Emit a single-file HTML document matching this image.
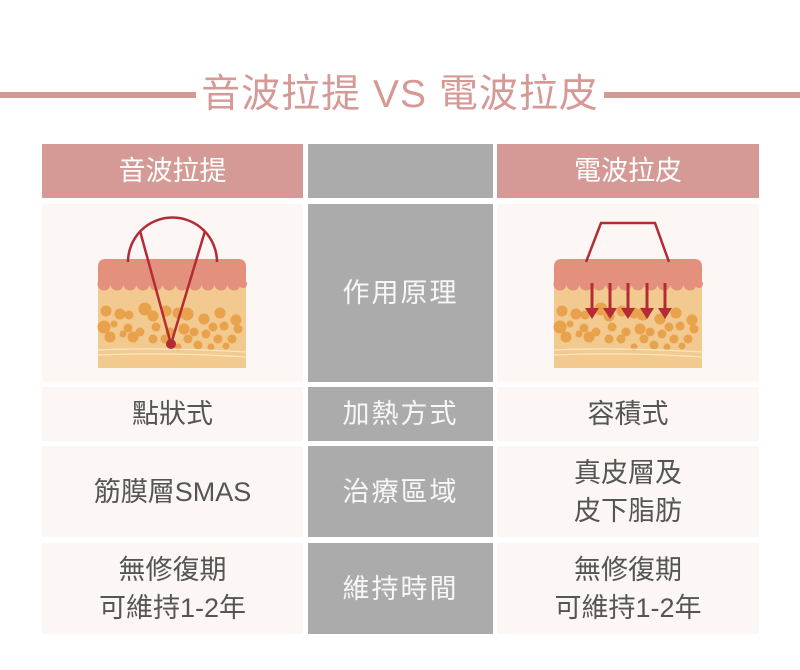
<!DOCTYPE html>
<html><head><meta charset="utf-8"><style>
body{margin:0;width:800px;height:670px;background:#fff;position:relative;overflow:hidden;font-family:"Liberation Sans","Noto Sans CJK TC",sans-serif}
.ln{position:absolute;top:92px;height:6px;background:#d69a96}
.title{position:absolute;left:190px;width:420px;top:71px;text-align:center;font-size:39px;color:#d69a96;line-height:48px;letter-spacing:1px}
.c{position:absolute;display:flex;align-items:center;justify-content:center;text-align:center;font-size:27px;line-height:38px;color:#555}
.h{background:#d69a96;color:#fff}
.m{background:#ababab;color:#f7f7f7;letter-spacing:2px}
.p{background:#fcf6f4}
</style></head><body>
<div class="ln" style="left:0;width:196px"></div>
<div class="ln" style="left:604px;width:196px"></div>
<div class="title">音波拉提 VS 電波拉皮</div>

<div class="c h" style="left:42px;top:144px;width:261px;height:54px">音波拉提</div>
<div class="c m" style="left:308px;top:144px;width:185px;height:54px"></div>
<div class="c h" style="left:497px;top:144px;width:262px;height:54px">電波拉皮</div>

<div class="c p" style="left:42px;top:204px;width:261px;height:178px"></div>
<div class="c m" style="left:308px;top:204px;width:185px;height:178px">作用原理</div>
<div class="c p" style="left:497px;top:204px;width:262px;height:178px"></div>

<div class="c p" style="left:42px;top:387px;width:261px;height:54px">點狀式</div>
<div class="c m" style="left:308px;top:387px;width:185px;height:54px">加熱方式</div>
<div class="c p" style="left:497px;top:387px;width:262px;height:54px">容積式</div>

<div class="c p" style="left:42px;top:446px;width:261px;height:91px">筋膜層SMAS</div>
<div class="c m" style="left:308px;top:446px;width:185px;height:91px">治療區域</div>
<div class="c p" style="left:497px;top:446px;width:262px;height:91px">真皮層及<br>皮下脂肪</div>

<div class="c p" style="left:42px;top:543px;width:261px;height:91px">無修復期<br>可維持1-2年</div>
<div class="c m" style="left:308px;top:543px;width:185px;height:91px">維持時間</div>
<div class="c p" style="left:497px;top:543px;width:262px;height:91px">無修復期<br>可維持1-2年</div>

<svg width="800" height="670" style="position:absolute;left:0;top:0">
<defs>
<g id="skin">
<path d="M0,8 Q0,0 8,0 L140,0 Q148,0 148,8 L148,109 L0,109Z" fill="#f2c98e"/>
<path d="M0,8 Q0,0 8,0 L140,0 Q148,0 148,8 L148,26 L0,26Z" fill="#e3907c"/>
<g fill="#e3907c">
<circle cx="6" cy="25" r="6.5"/><circle cx="19" cy="25" r="6.5"/><circle cx="32" cy="25" r="6.5"/><circle cx="45" cy="25" r="6.5"/><circle cx="58" cy="25" r="6.5"/><circle cx="71" cy="25" r="6.5"/><circle cx="84" cy="25" r="6.5"/><circle cx="97" cy="25" r="6.5"/><circle cx="110" cy="25" r="6.5"/><circle cx="123" cy="25" r="6.5"/><circle cx="136" cy="25" r="6.5"/><circle cx="145" cy="25" r="4"/>
</g>
<g fill="#e9a24c">
<circle cx="8" cy="52" r="5.5"/><circle cx="22" cy="55" r="5.5"/><circle cx="31" cy="56" r="4.5"/><circle cx="47" cy="50" r="6.5"/><circle cx="55" cy="57" r="5.5"/><circle cx="68" cy="52" r="5.5"/><circle cx="80" cy="54" r="5.5"/><circle cx="89" cy="55" r="6.5"/><circle cx="106" cy="60" r="5.5"/><circle cx="122" cy="54" r="5.5"/><circle cx="138" cy="61" r="5.5"/>
<circle cx="6" cy="68" r="6.5"/><circle cx="16" cy="65" r="3.5"/><circle cx="30" cy="69" r="4.5"/><circle cx="42" cy="73" r="4.5"/><circle cx="58" cy="68" r="4.5"/><circle cx="72" cy="73" r="4.5"/><circle cx="86" cy="70" r="5.5"/><circle cx="96" cy="73" r="4.5"/><circle cx="115" cy="68" r="4.5"/><circle cx="126" cy="67" r="4.5"/><circle cx="140" cy="70" r="4.5"/>
<circle cx="12" cy="78" r="5.5"/><circle cx="25" cy="75" r="3.5"/><circle cx="35" cy="78" r="5.5"/><circle cx="55" cy="80" r="4.5"/><circle cx="67" cy="80" r="4.5"/><circle cx="90" cy="80" r="4.5"/><circle cx="108" cy="75" r="4.5"/><circle cx="120" cy="80" r="4.5"/><circle cx="134" cy="80" r="4.5"/><circle cx="100" cy="86" r="4.5"/><circle cx="113" cy="88" r="3.5"/><circle cx="128" cy="87" r="3.5"/><circle cx="80" cy="88" r="3.5"/>
</g>
<path d="M0,91 Q60,88 148,93 M0,96 Q70,93 148,98" stroke="#f9e6c4" stroke-width="1.2" fill="none"/>
</g>
</defs>
<use href="#skin" x="98" y="259"/>
<use href="#skin" x="554" y="259"/>
<g stroke="#b52a35" stroke-width="2.5" fill="none">
<path d="M128,262 A44.5,44.5 0 0 1 217,262"/>
<path d="M140,231 L171,344 L205,231"/>
<path d="M586,262 L601,223 L655,223 L669,262"/>
</g>
<circle cx="171" cy="344" r="5" fill="#b52a35"/>
<g stroke="#b52a35" stroke-width="3">
<line x1="592" y1="283" x2="592" y2="310"/><line x1="610" y1="283" x2="610" y2="310"/><line x1="628" y1="283" x2="628" y2="310"/><line x1="647" y1="283" x2="647" y2="310"/><line x1="665" y1="283" x2="665" y2="310"/>
</g>
<g fill="#b52a35">
<path d="M585,308 L599,308 L592,319Z"/><path d="M603,308 L617,308 L610,319Z"/><path d="M621,308 L635,308 L628,319Z"/><path d="M640,308 L654,308 L647,319Z"/><path d="M658,308 L672,308 L665,319Z"/>
</g>
</svg>
</body></html>
